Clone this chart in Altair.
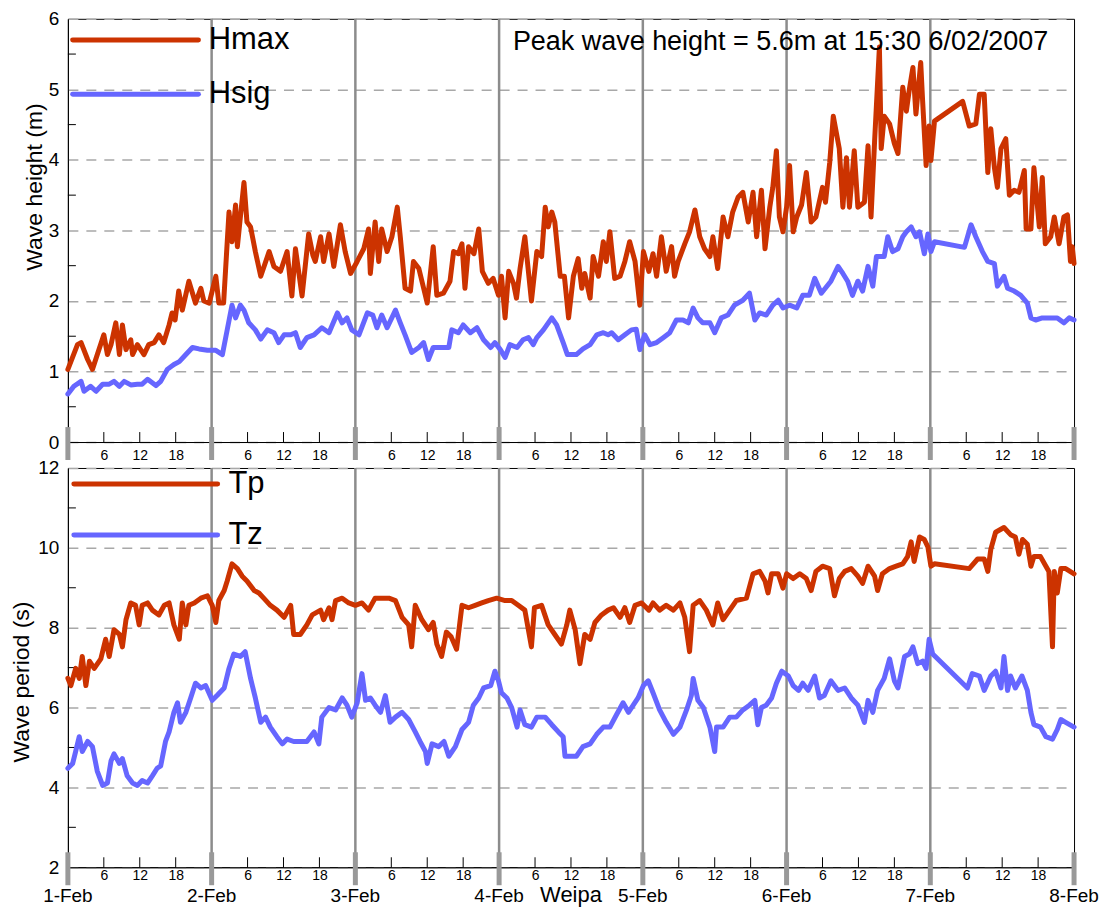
import altair as alt
import pandas as pd

# ---------------- data (hours since 00:00 1-Feb-2007) ----------------
hmax_hours = [0.0, 1.6, 2.2, 3.3, 4.1, 6.0, 6.6, 7.2, 8.0, 8.6, 9.1, 9.7, 10.5, 10.8, 11.6, 12.7, 13.5, 14.4, 15.2, 16.0,
              16.9, 17.4, 17.9, 18.5, 19.1, 20.2, 21.3, 22.2, 22.7, 23.6, 24.7, 25.2, 26.0, 26.9, 27.4, 28.0, 28.3, 28.8,
              29.4, 29.9, 30.5, 31.3, 32.2, 33.6, 34.4, 35.5, 36.6, 37.4, 38.0, 39.1, 40.2, 40.9,
              41.3, 42.2, 42.7, 43.6, 44.4, 45.5, 46.3, 47.2, 48.3, 49.4, 50.2, 50.5, 51.3, 51.9, 52.4, 53.3, 54.1,
              55.0, 55.5, 56.3, 57.2, 57.7, 58.6, 59.4, 60.0, 61.0, 61.6, 62.7, 63.8, 64.4, 65.2, 65.8, 66.3, 66.9,
              67.8, 68.6, 69.2, 70.2, 71.0, 71.9, 72.4, 73.0, 73.6, 74.4, 74.9, 75.5, 76.3, 77.4, 78.3, 79.1, 79.7,
              80.2, 80.8, 81.3, 82.2, 82.9, 83.6,
              84.4, 85.2, 85.8, 86.3, 87.2, 87.7, 88.6, 89.4, 89.9, 90.5, 91.3, 92.2, 93.0, 93.8, 94.7, 95.5, 96.1,
              97.0, 97.7, 98.3, 99.1, 99.9, 100.8, 101.3, 101.9, 103.0, 103.8, 104.7, 105.5, 106.3, 107.2, 107.7,
              108.5, 109.4, 110.2, 111.0, 111.9, 112.7, 113.6, 114.4, 115.0, 115.8, 116.4, 117.2, 117.7, 118.3,
              118.8, 119.4, 120.0, 120.5, 121.1, 121.7, 122.5, 123.3, 124.1, 124.9, 126.0,
              126.5, 127.2, 127.8, 128.8, 129.4, 130.0, 130.5, 131.3, 131.9, 133.0, 133.6, 134.1, 134.7, 135.5,
              135.8, 136.3, 137.2, 138.0, 138.6, 139.4, 140.0, 140.5, 141.1, 141.6, 142.4, 142.7, 143.3, 143.8,
              144.1, 144.7, 149.4, 150.5, 151.6, 152.2, 153.0, 153.6, 154.1, 154.7, 155.2, 155.8, 156.6, 157.2,
              158.0, 158.8, 159.7, 160.0, 160.8, 161.3, 162.2, 162.7, 163.2, 164.1, 164.7, 165.5, 166.3, 166.9,
              167.4, 167.7, 168.0]
hmax_values = [1.03, 1.38, 1.41, 1.17, 1.03, 1.52, 1.24, 1.38, 1.69, 1.24, 1.66, 1.31, 1.45, 1.24, 1.38, 1.24, 1.38, 1.41,
               1.52, 1.41, 1.66, 1.83, 1.73, 2.14, 1.87, 2.28, 1.97, 2.18, 2.00, 1.97, 2.35, 1.97, 1.97, 3.26, 2.84,
               3.36, 2.77, 3.19, 3.68, 3.12, 3.05, 2.70, 2.35, 2.70, 2.49, 2.42, 2.70, 2.07, 2.74, 2.07, 2.95, 2.65,
               2.56, 2.91, 2.56, 2.95, 2.49, 3.08, 2.70, 2.39, 2.56, 2.74, 3.02, 2.39, 3.12, 2.56, 3.02, 2.70, 2.91,
               3.33, 2.91, 2.18, 2.14, 2.56, 2.46, 2.18, 1.97, 2.77, 2.08, 2.11, 2.28, 2.70, 2.67, 2.81, 2.18, 2.77,
               2.67, 3.02, 2.42, 2.25, 2.32, 2.08, 2.35, 1.76, 2.42, 2.25, 2.04, 2.46, 2.91, 2.00, 2.70, 2.63, 3.33,
               3.05, 3.26, 3.12, 2.35, 2.35, 1.76,
               2.35, 2.60, 2.18, 2.39, 2.04, 2.63, 2.35, 2.84, 2.56, 2.98, 2.32, 2.35, 2.56, 2.84, 2.56, 1.94, 2.70,
               2.42, 2.67, 2.35, 2.91, 2.42, 2.77, 2.35, 2.56, 2.81, 2.98, 3.29, 2.91, 2.74, 2.63, 2.91,
               2.46, 3.19, 2.91, 3.26, 3.47, 3.54, 3.12, 3.54, 2.91, 3.57, 2.74, 3.33, 3.61, 4.13,
               3.19, 2.98, 3.33, 3.92, 2.98, 3.19, 3.36, 3.82, 3.12, 3.19, 3.61,
               3.40, 3.96, 4.62, 4.16, 3.33, 4.03, 3.33, 4.13, 3.33, 3.40, 4.20, 3.19, 4.27, 5.60,
               4.16, 4.62, 4.51, 4.23, 4.09, 5.03, 4.69, 5.00, 5.31, 4.65, 5.38, 4.86, 3.92, 4.48,
               3.99, 4.55, 4.83, 4.48, 4.51, 4.93, 4.93, 3.82, 4.44, 3.89, 3.61, 4.16, 4.30, 3.50,
               3.57, 3.54, 3.85, 3.02, 3.02, 3.89, 3.05, 3.75, 2.81, 2.91, 3.19, 2.81, 3.19, 3.22,
               2.56, 2.77, 2.53]

hsig_hours = [0.0, 1.0, 2.2, 2.7, 3.8, 4.7, 5.8, 6.9, 7.7, 8.6, 9.4, 10.5, 11.6, 12.4, 13.3, 14.7, 15.5, 16.6, 17.7,
              18.6, 19.7, 20.8, 21.9, 23.3, 24.7, 25.8, 26.6, 27.4, 28.0, 28.8, 29.4, 30.2, 31.3, 32.2, 33.3, 34.4,
              35.2, 36.1, 37.2, 38.0, 38.8, 39.9, 41.1,
              42.4, 43.6, 45.0, 45.8, 46.6, 47.4, 48.6, 50.0, 50.9, 51.6, 52.4, 53.3, 54.7, 55.5, 56.3, 57.4, 58.6,
              59.4, 60.2, 61.0, 62.4, 63.6, 64.1, 65.2, 66.0, 67.2, 68.3, 69.4, 70.6, 71.3, 72.2, 73.0, 73.8, 75.0,
              76.0, 76.9, 77.7, 78.3, 79.4, 80.8, 81.6, 82.7, 83.4,
              84.9, 86.0, 87.2, 88.3, 89.4, 90.2, 90.8, 91.9, 93.0, 94.1, 94.9, 95.5, 96.3, 97.2, 98.3, 99.4,
              100.5, 101.6, 102.7, 103.6, 104.4, 105.2, 106.0, 107.2, 108.0, 109.1, 110.2, 111.3, 112.7, 113.8,
              114.7, 115.5, 116.6, 117.7, 118.6, 119.4, 120.5, 121.7, 122.7, 123.8, 124.7, 125.8,
              127.4, 128.6, 129.4, 130.2, 131.0, 131.9, 132.7, 133.6, 134.4, 135.0, 136.3, 136.9, 137.7, 138.6,
              139.4, 140.0, 140.8, 141.6, 142.2, 143.0, 143.6, 144.1, 144.7, 149.7, 150.8, 151.6, 152.7, 153.6,
              154.7, 155.2, 156.3, 156.9, 158.0, 159.1, 160.2, 160.8, 161.6, 162.7, 164.1, 165.2, 166.3, 167.2, 168.0]
hsig_values = [0.68, 0.79, 0.86, 0.72, 0.79, 0.72, 0.82, 0.82, 0.86, 0.79, 0.86, 0.81, 0.82, 0.82, 0.89, 0.80, 0.86,
               1.03, 1.10, 1.14, 1.24, 1.34, 1.32, 1.30, 1.30, 1.24, 1.59, 1.94, 1.76, 1.94, 1.87, 1.69, 1.59, 1.46,
               1.59, 1.55, 1.41, 1.52, 1.52, 1.55, 1.34, 1.48, 1.52,
               1.62, 1.55, 1.83, 1.69, 1.76, 1.59, 1.52, 1.83, 1.80, 1.62, 1.80, 1.62, 1.87, 1.69, 1.52, 1.27, 1.34,
               1.41, 1.17, 1.34, 1.34, 1.34, 1.59, 1.55, 1.66, 1.55, 1.62, 1.45, 1.34, 1.41, 1.31, 1.20, 1.38, 1.34,
               1.45, 1.48, 1.38, 1.48, 1.59, 1.76, 1.66, 1.41, 1.24,
               1.24, 1.32, 1.38, 1.52, 1.55, 1.52, 1.55, 1.45, 1.52, 1.59, 1.60, 1.31, 1.52, 1.38, 1.41, 1.48,
               1.55, 1.73, 1.73, 1.69, 1.90, 1.76, 1.69, 1.69, 1.55, 1.76, 1.80, 1.94, 2.01, 2.11,
               1.73, 1.83, 1.80, 1.94, 2.01, 1.90, 1.94, 1.90, 2.08, 2.08, 2.32, 2.11,
               2.28, 2.49, 2.39, 2.28, 2.08, 2.28, 2.14, 2.49, 2.21, 2.63, 2.63, 2.91, 2.70, 2.74,
               2.91, 2.98, 3.05, 2.91, 2.98, 2.67, 2.95, 2.70, 2.84, 2.76, 3.08, 2.91, 2.70, 2.56,
               2.53, 2.21, 2.35, 2.18, 2.14, 2.08, 1.97, 1.76, 1.73, 1.76, 1.76, 1.76, 1.69, 1.76, 1.73]

tp_hours = [0.0, 0.5, 1.3, 1.9, 2.4, 3.0, 3.6, 4.4, 5.5, 6.3, 6.9, 7.7, 8.6, 9.1, 9.7, 10.5, 11.3, 11.9, 12.4, 13.3,
            14.1, 15.2, 16.1, 16.9, 17.7, 18.6, 19.1, 19.7, 20.2, 21.1, 22.2, 23.3, 24.1, 24.7, 25.2, 26.1, 26.6,
            27.4, 28.3, 29.1, 29.9, 31.1, 31.9, 32.7, 33.8, 34.9, 36.1, 37.2, 37.7, 38.8, 39.9, 40.8,
            42.2, 42.7, 43.6, 44.1, 44.7, 45.8, 46.9, 48.0, 49.1, 50.2, 51.3, 52.4, 53.6, 54.7, 55.8, 56.9, 57.4,
            58.0, 59.1, 60.2, 61.0, 61.6, 62.4, 63.2, 64.0, 64.9, 65.8, 66.9, 68.0, 69.1, 70.2, 71.6, 73.0, 74.1,
            75.2, 76.3, 77.4, 77.9, 79.1, 80.2, 81.3, 82.4, 83.3,
            83.8, 84.7, 85.5, 86.3, 87.2, 88.0, 89.1, 90.2, 91.1, 92.2, 93.0, 93.8, 94.7, 95.8, 97.0, 97.7, 98.8,
            99.9, 101.1, 102.2, 103.0, 103.8, 104.4, 105.5, 106.6, 107.7, 108.5, 109.4, 110.5, 111.6, 113.3,
            114.4, 115.5, 116.4, 116.9, 117.5, 118.6, 119.4, 120.0, 121.1, 122.2, 123.3, 124.1, 124.9, 126.0,
            127.2, 128.0, 128.8, 129.7, 130.8, 131.9, 132.7, 133.6, 134.7, 135.2, 136.0, 137.2, 138.3, 139.4,
            140.2, 140.8, 141.3, 142.2, 143.0, 143.6, 144.1, 144.7, 150.5, 151.9, 153.0, 153.6, 154.1, 154.9,
            156.3, 157.4, 158.2, 158.8, 159.4, 160.2, 160.8, 161.3, 162.4, 163.3, 163.8, 164.4, 164.7, 165.2,
            165.8, 166.6, 168.0]
tp_values = [6.73, 6.55, 6.98, 6.73, 7.28, 6.55, 7.16, 6.98, 7.22, 7.71, 7.28, 7.95, 7.83, 7.52, 8.20, 8.62, 8.56,
             8.07, 8.56, 8.62, 8.44, 8.32, 8.56, 8.62, 8.07, 7.71, 8.62, 8.07, 8.56, 8.62, 8.74, 8.80, 8.56, 8.13,
             8.68, 8.93, 9.17, 9.60, 9.48, 9.29, 9.17, 8.93, 8.87, 8.74, 8.56, 8.44, 8.26, 8.56, 7.83, 7.83, 8.07,
             8.32,
             8.44, 8.20, 8.50, 8.20, 8.68, 8.74, 8.62, 8.56, 8.62, 8.44, 8.74, 8.74, 8.74, 8.68, 8.26, 8.07, 7.52,
             8.56, 8.20, 7.95, 8.13, 7.59, 7.28, 7.89, 7.77, 7.46, 8.56, 8.50, 8.56, 8.62, 8.68, 8.74, 8.68, 8.68,
             8.56, 8.44, 7.52, 8.50, 8.56, 8.07, 7.83, 7.59, 8.07,
             8.44, 7.95, 7.10, 7.83, 7.71, 8.13, 8.32, 8.44, 8.50, 8.26, 8.50, 8.13, 8.56, 8.62, 8.44, 8.62, 8.44,
             8.56, 8.44, 8.62, 8.26, 7.40, 8.56, 8.68, 8.44, 8.07, 8.62, 8.20, 8.44, 8.68, 8.74,
             9.35, 9.41, 9.17, 8.87, 9.35, 9.35, 8.99, 9.35, 9.23, 9.35, 9.23, 8.93, 9.41, 9.54,
             9.48, 8.80, 9.23, 9.41, 9.48, 9.29, 9.11, 9.54, 9.29, 8.93, 9.35, 9.48, 9.54, 9.60,
             9.78, 10.15, 9.66, 10.27, 10.21, 10.02, 9.54, 9.60, 9.48, 9.72, 9.72, 9.41, 9.96, 10.39,
             10.51, 10.33, 10.27, 9.84, 10.21, 10.09, 9.54, 9.78, 9.78, 9.54, 9.41, 7.52, 9.41, 8.87,
             9.48, 9.48, 9.35]

tz_hours = [0.0, 0.8, 1.3, 1.9, 2.4, 3.3, 4.1, 4.9, 5.8, 6.6, 7.2, 7.7, 8.6, 9.1, 9.9, 10.8, 11.6, 12.4, 13.3, 14.1,
            14.9, 15.5, 16.3, 16.9, 17.7, 18.3, 18.8, 19.7, 20.5, 21.3, 22.2, 23.0, 24.1, 24.9, 26.1, 26.9, 27.7,
            28.8, 29.6, 30.5, 31.3, 32.2, 33.0, 33.8, 34.9, 35.8, 36.6, 37.7, 38.8, 39.9, 41.1,
            41.9, 42.4, 43.6, 44.7, 45.8, 46.6, 47.4, 48.3, 49.1, 49.7, 50.5, 51.3, 52.2, 53.0, 53.8, 54.7, 55.8,
            56.9, 58.0, 58.8, 59.7, 60.0, 60.8, 61.9, 62.8, 63.6, 64.7, 65.8, 66.9, 67.7, 68.6, 69.4, 70.6, 71.3,
            71.9, 72.4, 73.3, 74.1, 75.0, 75.5, 76.3, 77.4, 78.3, 79.7, 80.8, 81.9, 82.7, 83.0,
            84.9, 86.0, 87.2, 88.3, 89.4, 90.5, 91.6, 92.7, 93.6, 94.4, 95.2, 96.1, 96.9, 97.7, 98.8, 99.9,
            101.1, 102.2, 103.3, 104.1, 104.4, 105.2, 106.1, 107.2, 108.0, 108.3, 109.4, 110.5, 111.6, 112.7,
            113.8, 114.7, 115.2, 115.8, 116.6, 117.5, 118.3, 119.2, 120.3, 121.1, 122.0, 122.7, 123.6, 124.7,
            125.5, 126.3, 127.4, 128.6, 129.7, 130.8, 131.9, 133.0, 133.6, 134.4, 135.2, 136.3, 137.2, 138.0,
            138.6, 139.7, 140.5, 141.1, 141.9, 142.7, 143.3, 143.8, 144.4, 150.2, 151.0, 152.2, 153.0, 154.1,
            154.9, 155.8, 156.3, 156.9, 157.4, 158.2, 159.3, 160.2, 160.8, 161.3, 162.4, 163.3, 164.4, 165.2,
            165.8, 166.6, 168.0]
tz_values = [4.48, 4.60, 4.90, 5.27, 4.90, 5.15, 5.02, 4.41, 4.05, 4.11, 4.66, 4.84, 4.60, 4.72, 4.29, 4.11, 4.05,
             4.17, 4.11, 4.29, 4.48, 4.54, 5.15, 5.39, 5.88, 6.12, 5.63, 5.88, 6.24, 6.61, 6.49, 6.55, 6.18, 6.30,
             6.49, 6.98, 7.34, 7.28, 7.40, 6.73, 6.24, 5.63, 5.76, 5.51, 5.27, 5.09, 5.21, 5.15, 5.15, 5.15, 5.39,
             5.09, 5.76, 6.00, 5.94, 6.24, 6.06, 5.76, 6.12, 6.85, 6.18, 6.24, 6.06, 5.88, 6.30, 5.63, 5.76, 5.88,
             5.70, 5.39, 5.15, 4.90, 4.60, 5.09, 5.02, 5.15, 4.78, 5.02, 5.45, 5.63, 6.06, 6.24, 6.49, 6.55, 6.91,
             6.67, 6.37, 6.24, 6.00, 5.51, 5.94, 5.57, 5.51, 5.76, 5.76, 5.57, 5.39, 5.27, 4.78,
             4.78, 5.02, 5.09, 5.33, 5.51, 5.51, 5.82, 6.12, 5.88, 6.06, 6.24, 6.55, 6.67, 6.37, 5.94, 5.63,
             5.33, 5.51, 5.94, 6.30, 6.73, 6.18, 6.00, 5.51, 4.90, 5.51, 5.51, 5.76, 5.76, 5.94,
             6.06, 6.18, 5.57, 6.00, 6.06, 6.24, 6.61, 6.91, 6.79, 6.55, 6.43, 6.61, 6.43, 6.79,
             6.24, 6.30, 6.67, 6.43, 6.49, 6.24, 6.06, 5.63, 6.18, 5.88, 6.43, 6.73, 7.22, 6.67,
             6.49, 7.28, 7.34, 7.52, 7.10, 7.16, 6.98, 7.71, 7.34, 6.49, 6.85, 6.79, 6.43, 6.79,
             6.91, 6.49, 7.28, 6.43, 6.79, 6.49, 6.79, 6.43, 5.88, 5.57, 5.51, 5.27, 5.21, 5.45,
             5.70, 5.63, 5.51]

day_hours = [0, 24, 48, 72, 96, 120, 144, 168]
day_labels = ["1-Feb", "2-Feb", "3-Feb", "4-Feb", "5-Feb", "6-Feb", "7-Feb", "8-Feb"]
inner_day_hours = [24, 48, 72, 96, 120, 144]
hour_ticks = [6, 12, 18, 30, 36, 42, 54, 60, 66, 78, 84, 90, 102, 108, 114, 126, 132, 138, 150, 156, 162]
height_ticks = [0, 1, 2, 3, 4, 5, 6]
height_minor = [0.5, 1.5, 2.5, 3.5, 4.5, 5.5]
period_ticks = [2, 4, 6, 8, 10, 12]
period_minor = [3, 5, 7, 9, 11]
peak_text = "Peak wave height = 5.6m at 15:30 6/02/2007"

# ---------------- styles ----------------
RED = "#CC3300"
BLUE = "#6666FF"
GRID = "#a8a8a8"
DAYGRAY = "#8c8c8c"
FONT = "Liberation Sans"
W = 1008

x_scale = alt.Scale(domain=[0, 168], nice=False, zero=False)


def x_axis(pad):
    return alt.Axis(values=hour_ticks, labelExpr="datum.value % 24", ticks=False, tickSize=0, grid=False,
                    labelFontSize=14, labelPadding=pad, labelColor="black", domainColor="black", title="",
                    labelFlush=False, labelOverlap=False)


def panel(series, ydomain, yticks, yminor, ytitle, height, title_x, title_y, legend, bottom_labels):
    ymin = ydomain[0]
    y_scale = alt.Scale(domain=ydomain, nice=False, zero=False)
    y_axis = alt.Axis(values=yticks, format="d", ticks=False, tickSize=0, grid=True, gridDash=[10, 8],
                      gridColor=GRID, gridWidth=1.5, labelFontSize=19, labelPadding=9, labelColor="black",
                      labelFlush=False, domainColor="black", title=ytitle, titleFontSize=23,
                      titleFontWeight="normal", titleColor="black", titleX=title_x, titleY=title_y,
                      titleAngle=270)
    X = alt.X("h:Q", scale=x_scale, axis=x_axis(1 if bottom_labels else 7))
    Y = alt.Y("v:Q", scale=y_scale, axis=y_axis)

    layers = []
    # day separator lines
    layers.append(alt.Chart(pd.DataFrame({"h": inner_day_hours})).mark_rule(color=DAYGRAY, strokeWidth=2.5)
                  .encode(x=X))
    # inward minor y ticks
    layers.append(alt.Chart(pd.DataFrame({"v": yminor})).mark_rule(color="black", strokeWidth=1, x2Offset=8)
                  .encode(y=Y, x=alt.datum(0), x2=alt.datum(0)))
    # inward hour ticks
    layers.append(alt.Chart(pd.DataFrame({"h": hour_ticks})).mark_rule(color="black", strokeWidth=1, yOffset=-10)
                  .encode(x=X, y=alt.datum(ymin), y2=alt.datum(ymin)))
    # thick day ticks
    layers.append(alt.Chart(pd.DataFrame({"h": day_hours})).mark_rule(color="#999999", strokeWidth=5,
                                                                       yOffset=-15, y2Offset=18)
                  .encode(x=X, y=alt.datum(ymin), y2=alt.datum(ymin)))
    # series lines
    for hours, vals, col in series:
        layers.append(alt.Chart(pd.DataFrame({"h": hours, "v": vals}))
                      .mark_line(color=col, strokeWidth=5, strokeJoin="round", strokeCap="round")
                      .encode(x=X, y=Y))
    # legend
    for name, col, ypos, x0, x1, xt in legend:
        layers.append(alt.Chart().mark_rule(color=col, strokeWidth=5, strokeCap="round")
                      .encode(x=alt.datum(x0), x2=alt.datum(x1), y=alt.datum(ypos)))
        layers.append(alt.Chart().mark_text(text=name, align="left", baseline="middle", fontSize=31,
                                            color="black")
                      .encode(x=alt.datum(xt), y=alt.datum(ypos)))
    if bottom_labels:
        layers.append(alt.Chart(pd.DataFrame({"h": day_hours, "lab": day_labels}))
                      .mark_text(fontSize=19, baseline="alphabetic", dy=35, color="black")
                      .encode(x=X, y=alt.datum(ymin), text="lab:N"))
        layers.append(alt.Chart().mark_text(text="Weipa", fontSize=22, baseline="alphabetic", dy=35,
                                            color="black")
                      .encode(x=alt.datum(84), y=alt.datum(ymin)))
    else:
        layers.append(alt.Chart().mark_text(text=peak_text, align="left", baseline="middle", fontSize=27,
                                            color="black")
                      .encode(x=alt.datum(74.3), y=alt.datum(5.67)))
    return alt.layer(*layers).properties(width=W, height=height)


top = panel([(hmax_hours, hmax_values, RED), (hsig_hours, hsig_values, BLUE)],
            [0, 6], height_ticks, height_minor, "Wave height (m)", 424, -21, 168,
            [("Hmax", RED, 5.70, 0.8, 21.8, 23.5), ("Hsig", BLUE, 4.93, 0.8, 21.8, 23.5)], False)
bottom = panel([(tp_hours, tp_values, RED), (tz_hours, tz_values, BLUE)],
               [2, 12], period_ticks, period_minor, "Wave period (s)", 400, -34, 214,
               [("Tp", RED, 11.6, 1.0, 25.0, 26.8), ("Tz", BLUE, 10.32, 1.0, 25.0, 26.8)], True)

chart = (alt.vconcat(top, bottom, spacing=-6)
         .properties(padding={"left": 2, "top": 0, "right": 0, "bottom": 0})
         .configure(font=FONT)
         .configure_view(stroke="black", strokeWidth=1))

chart.save("out.html", embed_options={"renderer": "svg", "actions": False})
